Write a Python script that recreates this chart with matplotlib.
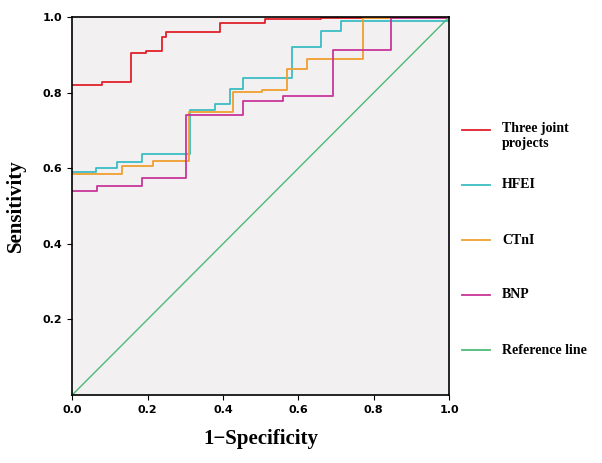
import matplotlib
matplotlib.use("Agg")
import matplotlib.pyplot as plt
from matplotlib.lines import Line2D

# step curves (1-specificity, sensitivity)
red_x = [0, 0.078, 0.155, 0.195, 0.237, 0.248, 0.392, 0.511, 0.661, 1.0]
red_y = [0.821, 0.827, 0.905, 0.911, 0.947, 0.960, 0.984, 0.995, 0.997, 1.0]
hfei_x = [0, 0.063, 0.120, 0.184, 0.312, 0.380, 0.418, 0.454, 0.584, 0.661, 0.712, 1.0]
hfei_y = [0.590, 0.600, 0.616, 0.637, 0.755, 0.770, 0.810, 0.840, 0.920, 0.964, 0.989, 0.99]
ctni_x = [0, 0.133, 0.213, 0.309, 0.427, 0.504, 0.571, 0.623, 0.772, 1.0]
ctni_y = [0.584, 0.605, 0.620, 0.748, 0.803, 0.806, 0.864, 0.890, 0.997, 0.997]
bnp_x = [0, 0.066, 0.184, 0.303, 0.453, 0.558, 0.692, 0.847, 1.0]
bnp_y = [0.540, 0.553, 0.575, 0.740, 0.778, 0.790, 0.913, 0.997, 0.997]

labels = ["Three joint\nprojects", "HFEI", "CTnI", "BNP", "Reference line"]
colors = ["#e0202a", "#3bbcc4", "#f0a030", "#c8359a", "#4cba78"]

fig = plt.figure(figsize=(6.02, 4.63), dpi=100)
ax = fig.add_axes([0.12, 0.147, 0.626, 0.816])
ax.set_facecolor("#f2f0f0")

for xs, ys, c in zip([red_x, hfei_x, ctni_x, bnp_x], [red_y, hfei_y, ctni_y, bnp_y], colors):
    ax.step(xs, ys, where="post", color=c, lw=1.3)
ax.plot([0, 1], [0, 1], color=colors[4], lw=1)

ax.set_xlim(0, 1)
ax.set_ylim(0, 1)
ax.set_xticks([0, 0.2, 0.4, 0.6, 0.8, 1.0])
ax.set_yticks([0.2, 0.4, 0.6, 0.8, 1.0])
ax.tick_params(labelsize=8)
for t in ax.get_xticklabels() + ax.get_yticklabels():
    t.set_fontweight("bold")
for s in ax.spines.values():
    s.set_linewidth(1.2)
ax.set_xlabel("1\u2212Specificity", fontsize=15, fontweight="bold", family="Liberation Serif", labelpad=10)
ax.set_ylabel("Sensitivity", fontsize=15, fontweight="bold", family="Liberation Serif", labelpad=12)

# legend drawn on the right
ys_px = [130, 185, 240, 295, 350]
for lab, c, yp in zip(labels, colors, ys_px):
    yf = 1 - yp / 463
    fig.add_artist(Line2D([462 / 602, 490 / 602], [yf, yf], color=c, lw=1.3))
    va = "top" if "\n" in lab else "center"
    fig.text(502 / 602, yf + (0.017 if va == "top" else 0), lab, fontsize=10, fontweight="bold",
             family="Liberation Serif", va=va, ha="left")

fig.savefig("out.png", dpi=100)
